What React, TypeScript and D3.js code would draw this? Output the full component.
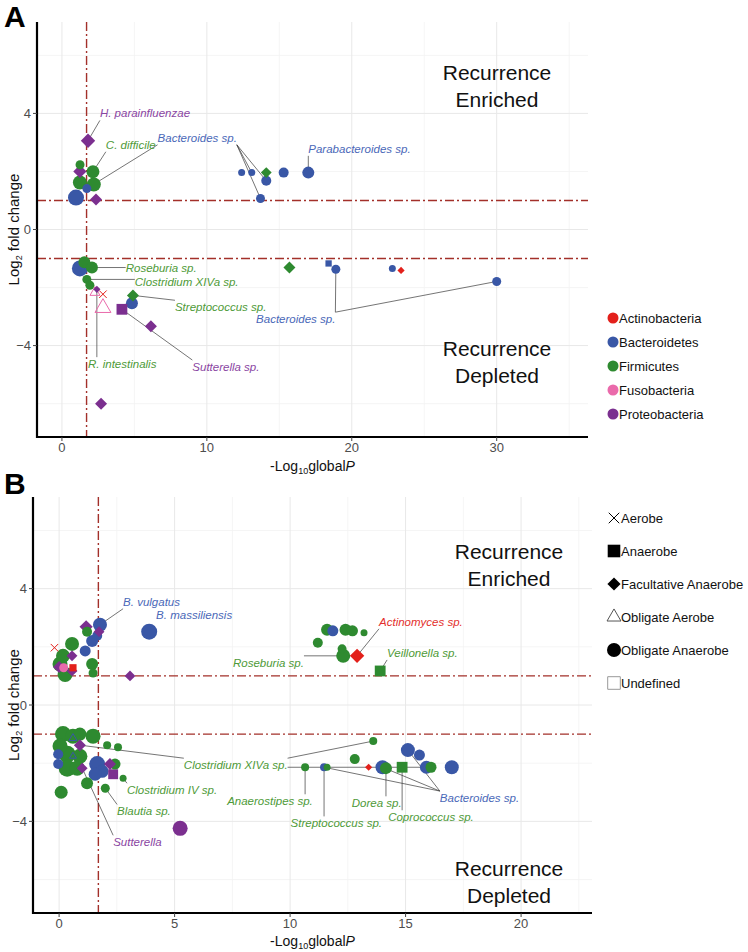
import React from "react";
import * as d3 from "d3";

// ---------- categories ----------
const PHYLA = ["Actinobacteria", "Bacteroidetes", "Firmicutes", "Fusobacteria", "Proteobacteria"];
const PHYLUM_COLORS = ["#e3201b", "#3957a6", "#2e8a30", "#ea6aab", "#7b2f8f"];
const LABEL_COLORS = ["#e3302c", "#4a68b8", "#4e9a38", "#ea6aab", "#8a45a2"];
const OXYGEN = ["Aerobe", "Anaerobe", "Facultative Anaerobe", "Obligate Aerobe", "Obligate Anaerobe", "Undefined"];

// ---------- ticks ----------
const A_X_TICKS = [0, 10, 20, 30];
const A_X_MINOR = [5, 15, 25, 35];
const B_X_TICKS = [0, 5, 10, 15, 20];
const B_X_MINOR = [2.5, 7.5, 12.5, 17.5, 22.5];
const Y_TICKS = [-4, 0, 4];
const Y_MINOR = [-6, -2, 2, 6];
const FC_THRESHOLD = 1;
const P_THRESHOLD = 1.7;

// ---------- panel A points: [-log10 P, log2 FC, phylum, oxygen, abundance] ----------
type Pt = [number, number, number, number, number];
const A_POINTS: Pt[] = [
  [1.8, 3.06, 4, 2, 4],
  [1.24, 2.0, 4, 2, 3.5],
  [1.25, 2.23, 2, 4, 2.5],
  [2.14, 1.99, 2, 4, 4.5],
  [1.24, 1.62, 2, 4, 5],
  [2.2, 1.55, 2, 4, 5],
  [1.72, 1.41, 1, 4, 2.5],
  [0.97, 1.1, 1, 4, 6],
  [2.35, 1.03, 4, 2, 3],
  [12.4, 1.96, 1, 4, 1.5],
  [13.1, 1.96, 1, 4, 1.5],
  [14.1, 1.96, 2, 2, 2.5],
  [14.1, 1.68, 1, 4, 3],
  [15.3, 1.96, 1, 4, 3],
  [17.0, 1.96, 1, 4, 4],
  [13.7, 1.07, 1, 4, 2.5],
  [15.7, -1.31, 2, 2, 3],
  [18.4, -1.17, 1, 1, 1.5],
  [18.9, -1.37, 1, 4, 2.5],
  [22.8, -1.34, 1, 4, 1.5],
  [23.4, -1.41, 0, 2, 1],
  [30.0, -1.79, 1, 4, 2.5],
  [1.24, -1.34, 1, 4, 6],
  [1.55, -1.13, 2, 4, 4],
  [2.07, -1.31, 2, 4, 4],
  [1.72, -1.72, 2, 4, 2.5],
  [1.93, -1.92, 2, 4, 2.5],
  [2.41, -2.06, 4, 2, 1],
  [2.28, -2.17, 3, 3, 3],
  [2.83, -2.23, 0, 0, 3],
  [2.83, -2.7, 3, 3, 6],
  [4.9, -2.27, 2, 2, 3],
  [4.83, -2.54, 1, 4, 4],
  [4.14, -2.75, 4, 1, 4],
  [6.14, -3.33, 4, 2, 3],
  [2.7, -6.0, 4, 2, 3],
];

// ---------- panel A labels: [text, x, y, anchor, phylum, target indices] ----------
type Lab = [string, number, number, string, number, number[]];
const A_LABELS: Lab[] = [
  ["H. parainfluenzae", 2.62, 4.0, "start", 4, [0]],
  ["C. difficile", 3.03, 2.92, "start", 2, [3]],
  ["Bacteroides sp.", 6.6, 3.16, "start", 1, [6, 10, 12, 15]],
  ["Parabacteroides sp.", 17.0, 2.78, "start", 1, [14]],
  ["Roseburia sp.", 4.4, -1.34, "start", 2, [24]],
  ["Clostridium XIVa sp.", 5.03, -1.82, "start", 2, [25]],
  ["Streptococcus sp.", 7.8, -2.68, "start", 2, [31]],
  ["Bacteroides sp.", 13.4, -3.09, "start", 1, [18, 21]],
  ["R. intestinalis", 1.8, -4.64, "start", 2, [27]],
  ["Sutterella sp.", 9.0, -4.74, "start", 4, [33]],
];

// ---------- panel B points ----------
const B_POINTS: Pt[] = [
  [1.77, 2.76, 1, 4, 5],
  [3.9, 2.52, 1, 4, 6],
  [1.17, 2.69, 4, 2, 3.5],
  [1.73, 2.52, 4, 2, 2.5],
  [1.21, 2.52, 2, 4, 3],
  [1.65, 2.38, 1, 4, 3],
  [1.43, 2.2, 1, 4, 4],
  [1.13, 1.86, 1, 4, 3.5],
  [0.56, 2.1, 2, 4, 5],
  [-0.2, 1.97, 0, 0, 3],
  [0.17, 1.69, 2, 4, 5],
  [0.56, 1.69, 4, 2, 2.5],
  [0.04, 1.41, 2, 4, 5.5],
  [0.2, 1.28, 3, 4, 2.5],
  [0.0, 1.31, 4, 2, 3],
  [0.56, 1.17, 4, 2, 2.5],
  [0.6, 1.28, 0, 1, 2],
  [0.26, 1.05, 2, 4, 5.5],
  [1.43, 1.41, 2, 4, 4],
  [1.47, 1.1, 2, 4, 2.5],
  [3.07, 1.0, 4, 2, 2.5],
  [11.6, 2.59, 2, 4, 4],
  [11.85, 2.55, 1, 4, 3.5],
  [12.4, 2.59, 2, 4, 4],
  [12.7, 2.55, 2, 4, 3.5],
  [13.2, 2.48, 2, 4, 1.5],
  [11.2, 2.14, 2, 4, 3],
  [12.25, 1.93, 2, 4, 2.5],
  [12.3, 1.69, 2, 4, 5],
  [12.9, 1.69, 0, 2, 4],
  [13.9, 1.17, 2, 1, 4],
  [13.6, -1.24, 2, 4, 2],
  [15.1, -1.55, 1, 4, 5],
  [15.6, -1.72, 1, 4, 3.5],
  [12.8, -1.86, 2, 4, 3],
  [10.65, -2.14, 2, 4, 2],
  [11.47, -2.14, 1, 4, 2],
  [11.6, -2.14, 2, 4, 1.5],
  [13.4, -2.14, 0, 2, 1],
  [14.0, -2.14, 1, 4, 5],
  [14.15, -2.17, 2, 4, 4],
  [14.85, -2.14, 2, 1, 4],
  [15.9, -2.14, 1, 4, 4.5],
  [16.1, -2.14, 2, 4, 3.5],
  [17.0, -2.14, 1, 4, 5],
  [0.17, -1.0, 2, 4, 6],
  [0.6, -1.07, 2, 4, 5.5],
  [1.47, -1.07, 2, 4, 5.5],
  [0.9, -1.0, 2, 4, 4.5],
  [0.04, -1.41, 2, 4, 5.5],
  [0.9, -1.76, 2, 4, 5.5],
  [0.6, -1.14, 1, 3, 2],
  [0.9, -1.38, 4, 2, 3],
  [2.08, -1.38, 2, 4, 2],
  [2.55, -1.45, 2, 4, 2],
  [-0.04, -1.69, 1, 4, 3],
  [-0.04, -2.03, 1, 4, 3],
  [0.35, -1.69, 2, 4, 6.5],
  [0.35, -2.17, 2, 4, 6.5],
  [0.78, -2.17, 2, 4, 5.5],
  [0.6, -1.76, 1, 3, 1.5],
  [1.21, -2.69, 2, 4, 4],
  [1.0, -2.17, 4, 2, 2.5],
  [1.65, -2.03, 1, 4, 6],
  [1.86, -2.28, 1, 4, 4.5],
  [1.56, -2.38, 1, 4, 4.5],
  [2.2, -2.03, 4, 2, 3],
  [2.34, -2.38, 4, 1, 3.5],
  [2.42, -2.03, 2, 4, 3.5],
  [2.77, -2.52, 2, 4, 1.5],
  [2.0, -2.86, 2, 4, 2.5],
  [0.09, -3.0, 2, 4, 4.5],
  [5.24, -4.24, 4, 4, 5.5],
];

const B_LABELS: Lab[] = [
  ["B. vulgatus", 2.77, 3.55, "start", 1, [0]],
  ["B. massiliensis", 4.2, 3.1, "start", 1, []],
  ["Actinomyces sp.", 13.85, 2.86, "start", 0, [29]],
  ["Veillonella sp.", 14.2, 1.79, "start", 2, [30]],
  ["Roseburia sp.", 10.6, 1.45, "end", 2, [28]],
  ["Clostridium XIVa sp.", 5.4, -2.07, "start", 2, [52, 31, 43]],
  ["Anaerostipes sp.", 9.13, -3.31, "middle", 2, [35]],
  ["Streptococcus sp.", 12.0, -4.07, "middle", 2, [36]],
  ["Dorea sp.", 13.75, -3.38, "middle", 2, [40]],
  ["Coprococcus sp.", 16.1, -3.86, "middle", 2, [41]],
  ["Bacteroides sp.", 18.2, -3.2, "middle", 1, [32, 39, 36]],
  ["Clostridium IV sp.", 2.94, -2.93, "start", 2, [69]],
  ["Blautia sp.", 2.51, -3.66, "start", 2, [70]],
  ["Sutterella", 2.34, -4.72, "start", 4, [62]],
];

// ---------- helpers ----------
const FONT = "'Liberation Sans', Arial, Helvetica, sans-serif";
const Y_DOMAIN: [number, number] = [-7.15, 7.15];
const rScale = d3.scaleLinear().domain([1, 7]).range([3, 9]);

let _ctx: CanvasRenderingContext2D | null = null;
function textWidth(t: string, size: number, italic = true): number {
  if (!_ctx) {
    const c = document.createElement("canvas");
    _ctx = c.getContext("2d");
  }
  if (!_ctx) return t.length * size * 0.5;
  _ctx.font = `${italic ? "italic " : ""}${size}px ${FONT}`;
  return _ctx.measureText(t).width;
}

function shapePath(o: number, r: number): string {
  if (o === 0) {
    const d = r * 0.75;
    return `M${-d},${-d}L${d},${d}M${-d},${d}L${d},${-d}`;
  }
  if (o === 1 || o === 5) {
    const s = r * 0.9;
    return `M${-s},${-s}H${s}V${s}H${-s}Z`;
  }
  if (o === 2) {
    const s = r * 1.2;
    return `M0,${-s}L${s},0L0,${s}L${-s},0Z`;
  }
  if (o === 3) {
    const R = r * 1.15;
    return `M0,${-R}L${R * 0.866},${R * 0.5}L${-R * 0.866},${R * 0.5}Z`;
  }
  return d3.symbol().type(d3.symbolCircle).size(Math.PI * r * r)() || "";
}

function Marker({ x, y, o, r, color }: { x: number; y: number; o: number; r: number; color: string }) {
  const open = o === 0 || o === 3 || o === 5;
  return (
    <path
      transform={`translate(${x},${y})`}
      d={shapePath(o, r)}
      fill={open ? "none" : color}
      stroke={open ? color : "none"}
      strokeWidth={open ? 1 : 0}
    />
  );
}

type PanelProps = {
  points: Pt[];
  labels: Lab[];
  xDomain: [number, number];
  left: number;
  right: number;
  top: number;
  bottom: number;
  xTicks: number[];
  xMinor: number[];
  letter: string;
  letterY: number;
  enrichedY: number;
  depletedY: number;
  textX: number;
  titleOffset: number;
};

function Panel(p: PanelProps) {
  const x = d3.scaleLinear().domain(p.xDomain).range([p.left, p.right]);
  const y = d3.scaleLinear().domain(Y_DOMAIN).range([p.bottom, p.top]);
  const dash = "9,3,2,3";
  const thr = "#a3302a";
  const sorted = p.points.map((d, i) => ({ d, i })).sort((a, b) => b.d[4] - a.d[4]);
  const cx = (p.left + p.right) / 2;
  const cy = (p.top + p.bottom) / 2;

  return (
    <g fontFamily={FONT}>
      {/* grid */}
      {p.xMinor.map((t) => (
        <line key={"xm" + t} x1={x(t)} x2={x(t)} y1={p.top} y2={p.bottom} stroke="#f3f3f3" strokeWidth={0.8} />
      ))}
      {Y_MINOR.map((t) => (
        <line key={"ym" + t} x1={p.left} x2={p.right} y1={y(t)} y2={y(t)} stroke="#f3f3f3" strokeWidth={0.8} />
      ))}
      {p.xTicks.map((t) => (
        <line key={"xg" + t} x1={x(t)} x2={x(t)} y1={p.top} y2={p.bottom} stroke="#e8e8e8" strokeWidth={1} />
      ))}
      {Y_TICKS.map((t) => (
        <line key={"yg" + t} x1={p.left} x2={p.right} y1={y(t)} y2={y(t)} stroke="#e8e8e8" strokeWidth={1} />
      ))}

      {/* thresholds */}
      {[FC_THRESHOLD, -FC_THRESHOLD].map((t) => (
        <line key={"h" + t} x1={p.left} x2={p.right} y1={y(t)} y2={y(t)} stroke={thr} strokeWidth={1.4} strokeDasharray={dash} />
      ))}
      <line x1={x(P_THRESHOLD)} x2={x(P_THRESHOLD)} y1={p.top} y2={p.bottom} stroke={thr} strokeWidth={1.4} strokeDasharray={dash} />

      {/* quadrant text */}
      <text x={p.textX} y={p.enrichedY} textAnchor="middle" fontSize={21} fill="#111">Recurrence</text>
      <text x={p.textX} y={p.enrichedY + 27} textAnchor="middle" fontSize={21} fill="#111">Enriched</text>
      <text x={p.textX} y={p.depletedY} textAnchor="middle" fontSize={21} fill="#111">Recurrence</text>
      <text x={p.textX} y={p.depletedY + 27} textAnchor="middle" fontSize={21} fill="#111">Depleted</text>

      {/* label segments */}
      {p.labels.map((l, li) => {
        const w = textWidth(l[0], 11.5);
        const lx = x(l[1]);
        const ly = y(l[2]);
        const x0 = l[3] === "start" ? lx : l[3] === "end" ? lx - w : lx - w / 2;
        const x1 = x0 + w;
        const y0 = ly - 7;
        const y1 = ly + 7;
        return l[5].map((ti) => {
          const pt = p.points[ti];
          const px = x(pt[0]);
          const py = y(pt[1]);
          const sx = Math.max(x0, Math.min(x1, px));
          const sy = Math.max(y0, Math.min(y1, py));
          return <line key={"s" + li + "-" + ti} x1={sx} y1={sy} x2={px} y2={py} stroke="#3a3a3a" strokeWidth={0.7} />;
        });
      })}

      {/* points */}
      {sorted.map(({ d, i }) => (
        <Marker key={"p" + i} x={x(d[0])} y={y(d[1])} o={d[3]} r={rScale(d[4])} color={PHYLUM_COLORS[d[2]]} />
      ))}

      {/* labels */}
      {p.labels.map((l, li) => (
        <text
          key={"l" + li}
          x={x(l[1])}
          y={y(l[2])}
          dy="0.35em"
          textAnchor={l[3]}
          fontSize={11.5}
          fontStyle="italic"
          fill={LABEL_COLORS[l[4]]}
        >
          {l[0]}
        </text>
      ))}

      {/* axes */}
      <line x1={p.left} x2={p.left} y1={p.top} y2={p.bottom + 1} stroke="#000" strokeWidth={2.2} />
      <line x1={p.left - 1} x2={p.right} y1={p.bottom} y2={p.bottom} stroke="#000" strokeWidth={2.2} />
      {p.xTicks.map((t) => (
        <g key={"xt" + t}>
          <line x1={x(t)} x2={x(t)} y1={p.bottom} y2={p.bottom + 4} stroke="#444" strokeWidth={1} />
          <text x={x(t)} y={p.bottom + 15} textAnchor="middle" fontSize={13} fill="#4d4d4d">
            {t < 0 ? "\u2212" + Math.abs(t) : t}
          </text>
        </g>
      ))}
      {Y_TICKS.map((t) => (
        <g key={"yt" + t}>
          <line x1={p.left - 4} x2={p.left} y1={y(t)} y2={y(t)} stroke="#444" strokeWidth={1} />
          <text x={p.left - 6} y={y(t)} dy="0.35em" textAnchor="end" fontSize={13} fill="#4d4d4d">
            {t < 0 ? "\u2212" + Math.abs(t) : t}
          </text>
        </g>
      ))}

      {/* axis titles */}
      <text x={cx} y={p.bottom + p.titleOffset} textAnchor="middle" fontSize={14} fill="#111">
        -Log<tspan fontSize={9} dy={3}>10</tspan>
        <tspan dy={-3}>global</tspan>
        <tspan fontStyle="italic">P</tspan>
      </text>
      <text transform={`translate(19,${cy}) rotate(-90)`} textAnchor="middle" fontSize={15} fill="#111">
        Log<tspan fontSize={9} dy={3}>2</tspan>
        <tspan dy={-3}> fold change</tspan>
      </text>

      {/* panel letter */}
      <text x={4} y={p.letterY} fontSize={30} fontWeight="bold" fill="#000">{p.letter}</text>
    </g>
  );
}

function PhylumLegend({ x, y0, step }: { x: number; y0: number; step: number }) {
  return (
    <g fontFamily={FONT}>
      {PHYLA.map((name, i) => (
        <g key={name}>
          <circle cx={x} cy={y0 + i * step} r={5.5} fill={PHYLUM_COLORS[i]} />
          <text x={x + 6} y={y0 + i * step} dy="0.35em" fontSize={13} fill="#111">{name}</text>
        </g>
      ))}
    </g>
  );
}

function OxygenLegend({ x, y0, step }: { x: number; y0: number; step: number }) {
  return (
    <g fontFamily={FONT}>
      {OXYGEN.map((name, i) => {
        const cy = y0 + i * step;
        const col = i === 5 ? "#999" : i === 3 ? "#555" : "#000";
        return (
          <g key={name}>
            <Marker x={x} y={cy} o={i} r={i === 2 ? 5.5 : 7} color={col} />
            <text x={x + 7} y={cy} dy="0.35em" fontSize={13} fill="#111">{name}</text>
          </g>
        );
      })}
    </g>
  );
}

export default function App() {
  return (
    <svg
      width={748}
      height={952}
      viewBox="0 0 748 952"
      style={{ position: "absolute", left: 0, top: 0, background: "#fff" }}
    >
      <rect width={748} height={952} fill="#fff" />
      <Panel
        points={A_POINTS}
        labels={A_LABELS}
        xDomain={[-1.72, 36.3]}
        left={37}
        right={588}
        top={22}
        bottom={437}
        xTicks={A_X_TICKS}
        xMinor={A_X_MINOR}
        letter="A"
        letterY={27}
        enrichedY={80}
        depletedY={356}
        textX={497}
        titleOffset={34}
      />
      <Panel
        points={B_POINTS}
        labels={B_LABELS}
        xDomain={[-1.13, 23.07]}
        left={33}
        right={592}
        top={497}
        bottom={913}
        xTicks={B_X_TICKS}
        xMinor={B_X_MINOR}
        letter="B"
        letterY={494}
        enrichedY={559}
        depletedY={876}
        textX={509}
        titleOffset={33}
      />
      <PhylumLegend x={613} y0={318} step={24} />
      <OxygenLegend x={614} y0={518} step={33} />
    </svg>
  );
}
